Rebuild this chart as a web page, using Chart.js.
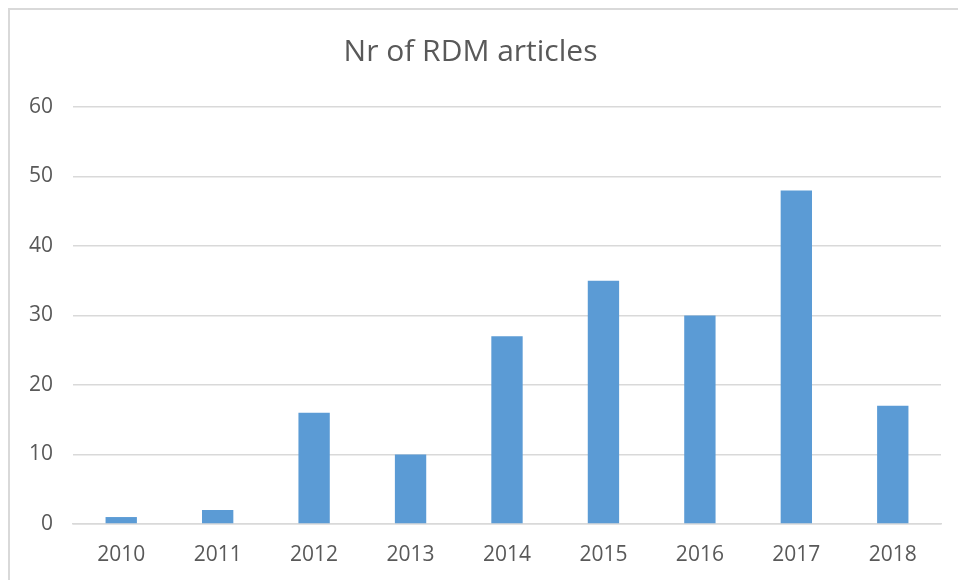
<!DOCTYPE html>
<html>
<head>
<meta charset="utf-8">
<script src="https://cdn.jsdelivr.net/npm/chart.js@4"></script>
<style>
html,body{margin:0;padding:0;background:#fff;}
#wrap{width:958px;height:580px;position:relative;}
</style>
</head>
<body>
<div id="wrap"><canvas id="c" width="958" height="580"></canvas></div>
<script>
const categories = ["2010","2011","2012","2013","2014","2015","2016","2017","2018"];
const articles = [1, 2, 16, 10, 27, 35, 30, 48, 17];
const yTicks = [0, 10, 20, 30, 40, 50, 60];
const titleText = "Nr of RDM articles";

const FONT = "'Open Sans', Lato, sans-serif";
const TXT = "#595959";
const GRID = "#D9D9D9";

const frame = {
  id: 'frame',
  beforeDraw(chart) {
    const ctx = chart.ctx;
    ctx.save();
    ctx.strokeStyle = GRID;
    ctx.lineWidth = 2;
    ctx.strokeRect(9, 9, 1000, 1000);
    ctx.restore();
  }
};

new Chart(document.getElementById('c'), {
  type: 'bar',
  data: {
    labels: categories,
    datasets: [{
      data: articles,
      backgroundColor: '#5B9BD5',
      borderWidth: 0,
      barPercentage: 0.325,
      categoryPercentage: 1.0
    }]
  },
  options: {
    responsive: false,
    animation: false,
    devicePixelRatio: 1,
    layout: { padding: { left: 0, right: 17, top: 0, bottom: 0 } },
    plugins: {
      legend: { display: false },
      tooltip: { enabled: false },
      title: {
        display: true,
        text: titleText,
        color: TXT,
        font: { family: FONT, size: 30, weight: 'normal' },
        padding: { top: 34.5, bottom: 36.5 }
      }
    },
    scales: {
      x: {
        grid: { display: false, drawTicks: false },
        border: { display: true, color: GRID, width: 1.5 },
        ticks: { color: TXT, font: { family: FONT, size: 21 }, padding: 18, maxRotation: 0 },
        afterFit(s) { s.height = 56; }
      },
      y: {
        min: 0, max: 60,
        afterBuildTicks(s) { s.ticks = yTicks.map(v => ({ value: v })); },
        grid: { color: GRID, lineWidth: 1.5, drawTicks: false },
        border: { display: false },
        ticks: { color: TXT, font: { family: FONT, size: 21 }, padding: 20 },
        afterFit(s) { s.width = 73; }
      }
    }
  },
  plugins: [frame]
});
</script>
</body>
</html>
